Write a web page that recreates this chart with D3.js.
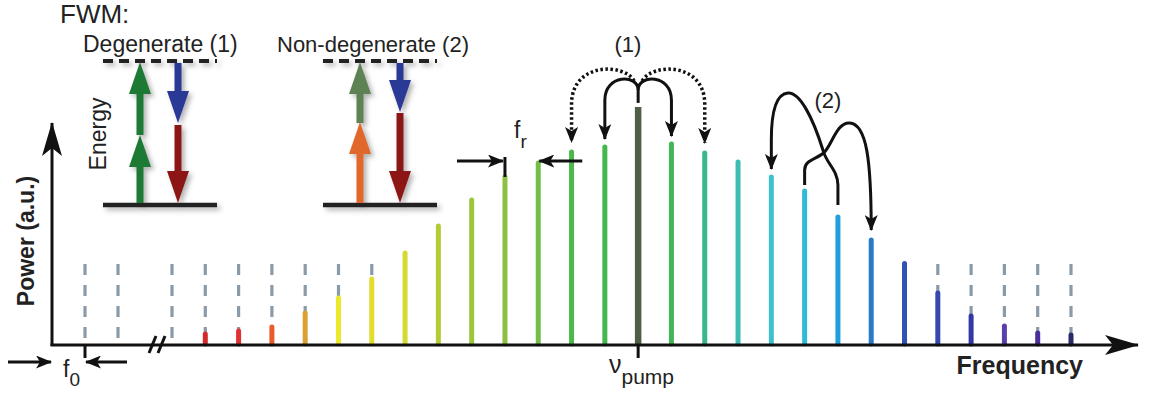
<!DOCTYPE html>
<html>
<head>
<meta charset="utf-8">
<script src="https://cdn.jsdelivr.net/npm/d3@7"></script>
<style>
  html, body { margin: 0; padding: 0; background: #fff; }
  svg { display: block; font-family: "Liberation Sans", Arial, sans-serif; }
</style>
</head>
<body>
<script>
// comb lines before the axis break (only noise-floor dashes)
const lowModes = [1, 2];
// comb lines after the break, power in a.u. (0 = buried in noise)
const combPower = [0, 4.2, 5.4, 7.1, 12.9, 19.2, 27.1, 37.9, 49.2, 60, 69.6, 75.4, 80, 82.1,
  98.8, 83.3, 79.6, 75.8, 69.6, 63.8, 52.9, 43.3, 33.5, 21.3, 11.7, 7.5, 4.6, 3.75];
const combColors = ["#c82828", "#d42a2a", "#e03232", "#ea5a2a", "#dca032", "#ece82a", "#e2dc2c",
  "#d2dc30", "#b4cc34", "#9cc63c", "#8cc040", "#74be46", "#4cb84a", "#44b84e", "#4f5e45",
  "#42b656", "#3ab68c", "#3cbcb4", "#40c0cc", "#30bada", "#1ea0dc", "#2a7ac8", "#3052b2",
  "#3448b0", "#3238a8", "#5a3eac", "#4a2e9c", "#2a2a6a"];
const pumpIdx = 14;
const noiseFloor = 33.3;
const combIdx = combPower.map((d, i) => i);

const W = 1151, H = 396;
const svg = d3.select("body").append("svg").attr("width", W).attr("height", H);
const defs = svg.append("defs");

const shadow = defs.append("filter").attr("id", "shadow")
  .attr("x", "-50%").attr("y", "-20%").attr("width", "200%").attr("height", "150%");
shadow.append("feDropShadow").attr("dx", 3).attr("dy", 3).attr("stdDeviation", 2.5)
  .attr("flood-color", "#555").attr("flood-opacity", 0.45);

const mkHead = (id, w, h, notch) => defs.append("marker").attr("id", id)
  .attr("viewBox", `0 0 ${w} ${h}`).attr("refX", w - 1).attr("refY", h / 2)
  .attr("markerWidth", w).attr("markerHeight", h).attr("markerUnits", "userSpaceOnUse")
  .attr("orient", "auto")
  .append("path").attr("d", `M0,0 L${w},${h / 2} L0,${h} L${notch},${h / 2} Z`).attr("fill", "#111");
mkHead("head", 16, 13, 4);
mkHead("bighead", 34, 20, 8);

// scales
const y = d3.scaleLinear().domain([0, 100]).range([344, 104]);
const xLow = d3.scaleLinear().domain([0, 2]).range([52, 118]);
const xHigh = d3.scaleLinear().domain([0, 27]).range([172, 1071]);
const y0 = y(0);

// noise floor dashes
const dashG = svg.append("g").attr("stroke", "#8a9aa8").attr("stroke-width", 3.2)
  .attr("stroke-dasharray", "11,10");
dashG.selectAll("line.low").data(lowModes).join("line").attr("class", "low")
  .attr("x1", d => xLow(d)).attr("x2", d => xLow(d))
  .attr("y1", y(noiseFloor)).attr("y2", y0);
dashG.selectAll("line.high").data(combIdx.filter(i => combPower[i] < noiseFloor)).join("line")
  .attr("class", "high")
  .attr("x1", d => xHigh(d)).attr("x2", d => xHigh(d))
  .attr("y1", y(noiseFloor)).attr("y2", y0);

// comb lines
svg.append("g").selectAll("line").data(combIdx.filter(i => combPower[i] > 0)).join("line")
  .attr("x1", d => xHigh(d)).attr("x2", d => xHigh(d))
  .attr("y1", d => y(combPower[d])).attr("y2", y0)
  .attr("stroke", d => combColors[d])
  .attr("stroke-width", d => d === pumpIdx ? 6.5 : 5)
  .attr("stroke-linecap", d => d === pumpIdx ? "butt" : "round");

// axes
const axG = svg.append("g").attr("stroke", "#111").attr("stroke-width", 3).attr("fill", "none");
axG.append("line").attr("x1", xLow(0) - 1.5).attr("x2", 1138).attr("y1", y0 + 1).attr("y2", y0 + 1)
  .attr("marker-end", "url(#bighead)");
axG.append("line").attr("x1", xLow(0)).attr("x2", xLow(0)).attr("y1", y0 + 2).attr("y2", 123)
  .attr("marker-end", "url(#bighead)");
// axis break
[0, 9].forEach(o => axG.append("line")
  .attr("x1", 149 + o).attr("y1", 353).attr("x2", 156 + o).attr("y2", 336));
// ticks
axG.append("line").attr("x1", xLow(1)).attr("x2", xLow(1)).attr("y1", y0).attr("y2", 358);
axG.append("line").attr("x1", xHigh(pumpIdx)).attr("x2", xHigh(pumpIdx)).attr("y1", y0).attr("y2", 358);

// f0 arrows
const thin = svg.append("g").attr("stroke", "#111").attr("stroke-width", 3).attr("fill", "none");
thin.append("line").attr("x1", 8).attr("x2", xLow(0) - 1).attr("y1", 362).attr("y2", 362)
  .attr("marker-end", "url(#head)");
thin.append("line").attr("x1", 127).attr("x2", xLow(1) + 1).attr("y1", 362).attr("y2", 362)
  .attr("marker-end", "url(#head)");

// f_r arrows
const xa = xHigh(10), xb = xHigh(11);
thin.append("line").attr("x1", xa).attr("x2", xa).attr("y1", 157).attr("y2", y(combPower[10]));
thin.append("line").attr("x1", xa - 48).attr("x2", xa - 2).attr("y1", 161).attr("y2", 161)
  .attr("marker-end", "url(#head)");
thin.append("line").attr("x1", xb + 44).attr("x2", xb + 1).attr("y1", 161).attr("y2", 161)
  .attr("marker-end", "url(#head)");

// FWM arcs (1)
const p = xHigh(pumpIdx), l1 = xHigh(13), l2 = xHigh(12), r1 = xHigh(15), r2 = xHigh(16);
const tipY = i => y(combPower[i]) - 8;
thin.append("path").attr("d", `M${p},${y(combPower[pumpIdx]) - 4} V90`);
thin.append("path").attr("d", `M${p},90 C${p},74 ${l1},74 ${l1},100 L${l1},${tipY(13)}`)
  .attr("marker-end", "url(#head)");
thin.append("path").attr("d", `M${p},90 C${p},74 ${r1},74 ${r1},100 L${r1},${tipY(15)}`)
  .attr("marker-end", "url(#head)");
const dotted = svg.append("g").attr("stroke", "#111").attr("stroke-width", 3.5).attr("fill", "none")
  .attr("stroke-dasharray", "2.5,2.5");
dotted.append("path").attr("d", `M${p - 4},81 C${p - 14},63 ${l2 + 2},62 ${l2},102 L${l2},${tipY(12) - 2}`)
  .attr("marker-end", "url(#head)");
dotted.append("path").attr("d", `M${p + 4},81 C${p + 14},63 ${r2 - 2},62 ${r2},102 L${r2},${tipY(16) - 2}`)
  .attr("marker-end", "url(#head)");

// FWM arcs (2)
const a = xHigh(20), b = xHigh(19), c = xHigh(18), d2 = xHigh(21);
thin.append("path")
  .attr("d", `M${a},${y(combPower[20]) - 12} V185 C${a},170 ${a - 12},163 ${a - 15},150 ` +
    `C${a - 25},118 ${a - 38},92 ${a - 50},93 C${a - 63},94 ${c},115 ${c},140 L${c},${tipY(18)}`)
  .attr("marker-end", "url(#head)");
thin.append("path")
  .attr("d", `M${b},${y(combPower[19]) - 6} V170 C${b},160 ${b + 12},159 ${b + 19},153 ` +
    `C${b + 27},146 ${b + 32},122 ${b + 45},123 C${b + 62},124 ${d2},160 ${d2},${tipY(21) - 2}`)
  .attr("marker-end", "url(#head)");

// energy level insets
const inset = svg.append("g").attr("filter", "url(#shadow)");
const arrow = (x, yTail, yTip, color) => {
  const dir = yTip < yTail ? -1 : 1, hl = 32, hw = 11, sw = 3.5;
  const yb = yTip - dir * hl;
  inset.append("path")
    .attr("d", `M${x - sw},${yTail} L${x - sw},${yb} L${x - hw},${yb} L${x},${yTip} ` +
      `L${x + hw},${yb} L${x + sw},${yb} L${x + sw},${yTail} Z`)
    .attr("fill", color);
};
[[103, 217], [323, 437]].forEach(([x1, x2]) => {
  inset.append("line").attr("x1", x1).attr("x2", x2).attr("y1", 61).attr("y2", 61)
    .attr("stroke", "#222").attr("stroke-width", 4).attr("stroke-dasharray", "10,6");
  inset.append("line").attr("x1", x1).attr("x2", x2).attr("y1", 205).attr("y2", 205)
    .attr("stroke", "#222").attr("stroke-width", 4.5);
});
arrow(140, 203, 135, "#1d7a36");
arrow(140, 135, 62, "#1d7a36");
arrow(178, 63, 123, "#2b3796");
arrow(178, 125, 203, "#8c1818");
arrow(360, 123, 62, "#5f8255");
arrow(360, 203, 122, "#e0682c");
arrow(400, 63, 112, "#2b3796");
arrow(400, 113, 203, "#8c1818");

// texts
const txt = (x, yy, s, size, opts = {}) => svg.append("text").attr("x", x).attr("y", yy)
  .attr("font-size", size).attr("fill", "#222")
  .attr("font-weight", opts.bold ? "bold" : null)
  .attr("text-anchor", opts.anchor || "start")
  .attr("transform", opts.rot ? `rotate(-90,${x},${yy})` : null)
  .text(s);
txt(60, 23, "FWM:", 26);
txt(83, 52, "Degenerate (1)", 23);
txt(277, 52, "Non-degenerate (2)", 22);
txt(106, 134, "Energy", 23, { anchor: "middle", rot: true });
txt(34, 241, "Power (a.u.)", 23, { anchor: "middle", rot: true, bold: true });
txt(628, 52, "(1)", 22, { anchor: "middle" });
txt(828, 108, "(2)", 22, { anchor: "middle" });
txt(1083, 374, "Frequency", 25, { anchor: "end", bold: true });

const sub = (x, yy, main, s, size, subSize, dy) => {
  const t = svg.append("text").attr("x", x).attr("y", yy).attr("font-size", size).attr("fill", "#222");
  t.append("tspan").text(main);
  t.append("tspan").attr("font-size", subSize).attr("dy", dy).text(s);
};
sub(63, 377, "f", "0", 23, 19, 9);
sub(514, 138, "f", "r", 23, 19, 10);
sub(609, 373, "ν", "pump", 25, 21, 11);
</script>
</body>
</html>
